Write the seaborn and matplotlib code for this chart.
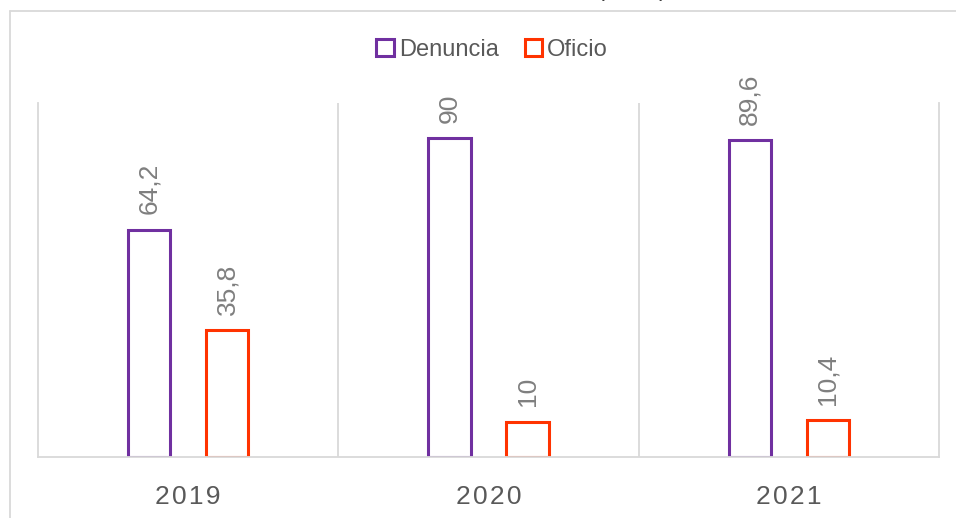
import matplotlib.pyplot as plt
import matplotlib.lines as mlines
import pandas as pd
import seaborn as sns

# Data
years = ['2019', '2020', '2021']
denuncia = [64.2, 90, 89.6]
oficio = [35.8, 10, 10.4]
series = ['Denuncia', 'Oficio']
colors = ['#7030A0', '#FF3300']

df = pd.DataFrame({
    'year': years * 2,
    'value': denuncia + oficio,
    'tipo': [series[0]] * len(years) + [series[1]] * len(years),
})

sns.set_style('white')
plt.rcParams['font.family'] = ['Liberation Sans Narrow', 'Liberation Sans', 'DejaVu Sans']

W, H = 956, 518
fig = plt.figure(figsize=(W / 100, H / 100), dpi=100)
ax = fig.add_axes([38 / W, (H - 457) / H, (939 - 38) / W, (457 - 103) / H])

sns.barplot(data=df, x='year', y='value', hue='tipo', palette=colors,
            fill=False, linewidth=2.2, width=0.52, gap=0.46, ax=ax)

ax.set_ylim(0, 100)
ax.set_xlim(-0.5, len(years) - 0.5)
ax.set_yticks([])
ax.set_xlabel('')
ax.set_ylabel('')

# category separators
grid_c = '#D9D9D9'
for x in range(1, len(years)):
    ax.axvline(x - 0.5, color=grid_c, lw=1.3, zorder=0)
for side in ['left', 'right', 'bottom']:
    ax.spines[side].set_color(grid_c)
    ax.spines[side].set_linewidth(1.3)
ax.spines['top'].set_visible(False)

# spaced year labels
ax.set_xticks(range(len(years)))
ax.set_xticklabels(['\u200a'.join(y) for y in years], fontsize=19, color='#595959')
ax.tick_params(axis='x', length=0, pad=20)

# value labels above bars
for cont in ax.containers:
    ax.bar_label(cont, fmt=lambda v: f'{v:g}'.replace('.', ','), rotation=90,
                 padding=11, fontsize=19, color='#7F7F7F')

# legend
handles, labels = ax.get_legend_handles_labels()
ax.legend(handles, labels, loc='center', bbox_to_anchor=(492 / W, 1 - 50 / H),
          bbox_transform=fig.transFigure, ncol=2, frameon=False, fontsize=17,
          handlelength=0.75, handleheight=0.75, handletextpad=0.2,
          columnspacing=1.1, labelcolor='#595959')

# outer chart frame (cut off at the image edges)
fig.add_artist(mlines.Line2D([9.5 / W, 9.5 / W], [0, 1 - 11 / H], color=grid_c, lw=1.3))
fig.add_artist(mlines.Line2D([9.5 / W, 1], [1 - 11 / H, 1 - 11 / H], color=grid_c, lw=1.3))

# title clipped at the top edge, only the descenders show
fig.text(632 / W, 1 + 4 / H, '(en %)', ha='center', va='baseline',
         fontsize=17, color='#404040')

fig.savefig('out.png', dpi=100, facecolor='white')
